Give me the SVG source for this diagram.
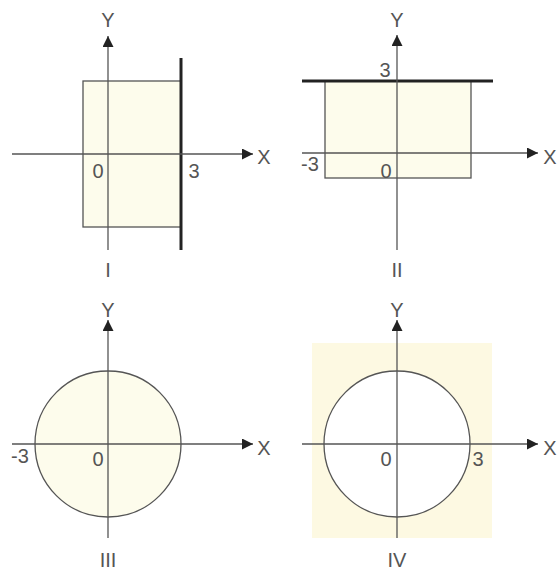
<svg xmlns="http://www.w3.org/2000/svg" width="560" height="573" viewBox="0 0 560 573">
<defs>
<marker id="ah" viewBox="0 0 10 10" refX="10" refY="5" markerWidth="11" markerHeight="11" markerUnits="userSpaceOnUse" orient="auto">
<path d="M0,0 L10,5 L0,10 Z" fill="#222"/>
</marker>
</defs>
<style>
.ax{stroke:#555;stroke-width:1.3;fill:none}
.thin{stroke:#555;stroke-width:1.3}
.thick{stroke:#222;stroke-width:3}
.fill{fill:#fdfcec}
.lbl{font-family:"Liberation Sans",Arial,sans-serif;font-size:20px;fill:#555;text-anchor:middle}
</style>
<rect width="560" height="573" fill="#fff"/>

<g id="panel-I">
<rect x="83" y="81" width="98" height="146" class="fill thin"/>
<line x1="181" y1="58" x2="181" y2="250" class="thick"/>
</g>
<g id="panel-II">
<rect x="325" y="81" width="146" height="97" class="fill thin"/>
<line x1="302" y1="81" x2="493" y2="81" class="thick"/>
</g>
<g id="panel-III">
<circle cx="108" cy="444" r="73" class="fill thin"/>
</g>
<g id="panel-IV">
<rect x="312" y="343" width="180" height="195" fill="#fdf9e2"/>
<circle cx="397" cy="444" r="73" fill="#fff" class="thin"/>
</g>

<g id="connectors">
<line x1="108" y1="250" x2="108" y2="36" class="ax" marker-end="url(#ah)"/>
<line x1="12" y1="154" x2="253" y2="154" class="ax" marker-end="url(#ah)"/>
<line x1="397" y1="250" x2="397" y2="35" class="ax" marker-end="url(#ah)"/>
<line x1="302" y1="153" x2="538" y2="153" class="ax" marker-end="url(#ah)"/>
<line x1="108" y1="538" x2="108" y2="320" class="ax" marker-end="url(#ah)"/>
<line x1="12" y1="444" x2="253" y2="444" class="ax" marker-end="url(#ah)"/>
<line x1="397" y1="538" x2="397" y2="320" class="ax" marker-end="url(#ah)"/>
<line x1="302" y1="444" x2="538" y2="444" class="ax" marker-end="url(#ah)"/>
</g>

<g id="labels">
<text x="108" y="27" class="lbl">Y</text>
<text x="264" y="164" class="lbl">X</text>
<text x="98" y="178" class="lbl">0</text>
<text x="194" y="178" class="lbl">3</text>
<text x="108" y="277" class="lbl">I</text>

<text x="397" y="27" class="lbl">Y</text>
<text x="550" y="164" class="lbl">X</text>
<text x="385" y="77" class="lbl">3</text>
<text x="310" y="171" class="lbl">-3</text>
<text x="386" y="178" class="lbl">0</text>
<text x="397" y="277" class="lbl">II</text>

<text x="108" y="317" class="lbl">Y</text>
<text x="264" y="455" class="lbl">X</text>
<text x="20" y="463" class="lbl">-3</text>
<text x="98" y="466" class="lbl">0</text>
<text x="108" y="567" class="lbl">III</text>

<text x="397" y="317" class="lbl">Y</text>
<text x="550" y="455" class="lbl">X</text>
<text x="386" y="466" class="lbl">0</text>
<text x="478" y="466" class="lbl">3</text>
<text x="397" y="567" class="lbl">IV</text>
</g>
</svg>
